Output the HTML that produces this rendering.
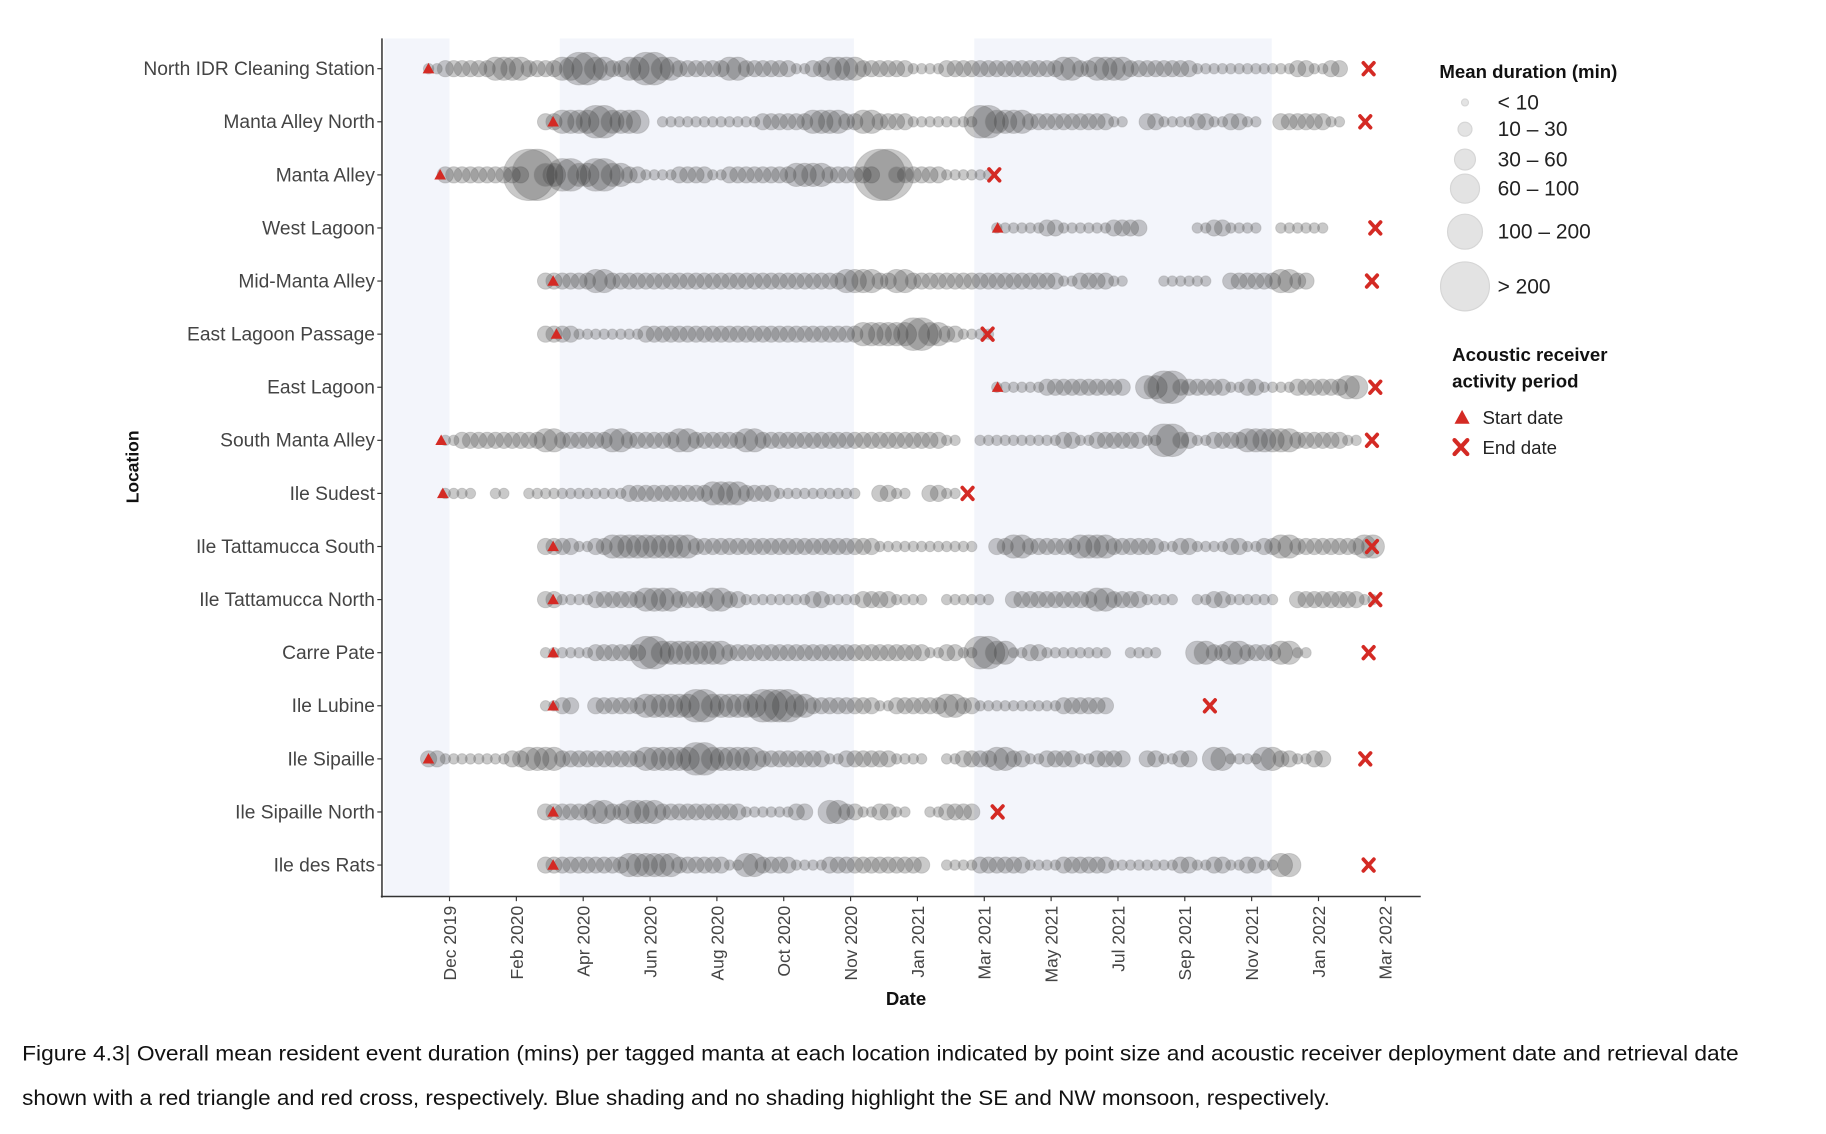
<!DOCTYPE html>
<html><head><meta charset="utf-8">
<style>
html,body{margin:0;padding:0;background:#fff;}
svg{display:block;}
text{font-family:"Liberation Sans",sans-serif;}
</style></head>
<body>
<svg id="chart" width="1826" height="1134" viewBox="0 0 1568 974" preserveAspectRatio="none" xmlns="http://www.w3.org/2000/svg">
<g id="bands"></g>
<g id="bubbles"></g>
<g id="markers"></g>
<g id="axes"></g>
<text x="0" y="0" transform="translate(119,401) rotate(-90)" text-anchor="middle" font-size="15" font-weight="bold" fill="#111">Location</text>
<text x="778" y="863" text-anchor="middle" font-size="16" font-weight="bold" fill="#111">Date</text>
<g>
<text x="1236" y="67" font-size="16" font-weight="bold" fill="#111">Mean duration (min)</text>
<g id="sizeLegend"></g>
</g>
<g>
<text x="1247" y="310" font-size="16" font-weight="bold" fill="#111">Acoustic receiver</text>
<text x="1247" y="333" font-size="16" font-weight="bold" fill="#111">activity period</text>
<polygon points="1249,364 1262,364 1255.5,352" fill="#d42a24"/>
<text x="1273" y="364" font-size="16" fill="#222">Start date</text>
<g stroke="#d42a24" stroke-width="3.6" stroke-linecap="round"><line x1="1249" y1="378" x2="1260" y2="390"/><line x1="1260" y1="378" x2="1249" y2="390"/></g>
<text x="1273" y="390" font-size="16" fill="#222">End date</text>
</g>
<text x="19" y="911" font-size="18" fill="#111" textLength="1474" lengthAdjust="spacingAndGlyphs">Figure 4.3| Overall mean resident event duration (mins) per tagged manta at each location indicated by point size and acoustic receiver deployment date and retrieval date</text>
<text x="19" y="949" font-size="18" fill="#111" textLength="1123" lengthAdjust="spacingAndGlyphs">shown with a red triangle and red cross, respectively. Blue shading and no shading highlight the SE and NW monsoon, respectively.</text>
</svg>
<script>
// ---- data ----
const locations = ["North IDR Cleaning Station","Manta Alley North","Manta Alley","West Lagoon","Mid-Manta Alley","East Lagoon Passage","East Lagoon","South Manta Alley","Ile Sudest","Ile Tattamucca South","Ile Tattamucca North","Carre Pate","Ile Lubine","Ile Sipaille","Ile Sipaille North","Ile des Rats"];
const tickLabels = ["Dec 2019","Feb 2020","Apr 2020","Jun 2020","Aug 2020","Oct 2020","Nov 2020","Jan 2021","Mar 2021","May 2021","Jul 2021","Sep 2021","Nov 2021","Jan 2022","Mar 2022"];
// start / end dates in months after Dec 2019
const startMonths = [-0.63,3.1,-0.28,16.4,3.1,3.2,16.4,-0.25,-0.2,3.1,3.1,3.1,3.1,-0.63,3.1,3.1];
const endMonths = [27.5,27.4,16.3,27.7,27.6,16.1,27.7,27.6,15.5,27.6,27.7,27.5,22.75,27.4,16.4,27.5];
// size class per half-month slot starting at month -1 ('.' = none, 0..5 = size class)
const sizeCodes = [
".1222332234323432223222123322211222222232332222111111212..",
"........233433.1111112223323221111433222221.2112121.2221.",
".3222225343432112212222332225222111",
"...................................111211122...1211.111.",
"........22232222222222222233232222222221221..111.22232",
"........221111222222222222233343211",
"...................................11122222.3422212112223",
".11222223222322232223222222222221.11111212221421223332221",
".111.1.11111122222332211111.21.21",
"........22123333322222222222111111.23222332221211212322223",
"........21122233223211112112211.111.2222232211.12111.22221.",
"........1112224333322222222222212143121111.11..3232231",
"........12.2223334333443222212223211111222",
".211112332222233343332222122211.12232122122.212.3113212",
"........2223233222221112.32121.122.",
"........22222333222132211222222.112221122211112121213"
];
const sizeClasses = ["< 10","10 – 30","30 – 60","60 – 100","100 – 200","> 200"];
const sizeRadius = [2.5,4.5,7,10,14,22];
// ---- scales ----
const x0 = 386, pxPerMonth = 28.7;
function xScale(m){ return x0 + m*pxPerMonth; }
const rowTop = 59, rowStep = 45.6;
function yScale(i){ return rowTop + i*rowStep; }
const NS = "http://www.w3.org/2000/svg";
function mk(tag, attrs, parent){ const e=document.createElementNS(NS,tag); for(const k in attrs) e.setAttribute(k,attrs[k]); parent.appendChild(e); return e; }

// bands
const bands = document.getElementById('bands');
const bandMonths = [[-2,0],[3.3,12.1],[15.7,24.6]];
bandMonths.forEach((b,i)=>{
  const r = mk('rect',{x:Math.max(330,xScale(b[0])),y:33,width:xScale(b[1])-Math.max(330,xScale(b[0])),height:737,fill:'#f3f5fb'},bands);
  
  
});

// bubbles
const bub = document.getElementById('bubbles');
sizeCodes.forEach((s,row)=>{
  const y = yScale(row);
  for(let i=0;i<s.length;i++){
    const c = s[i]; if(c==='.') continue;
    const m = -1 + 0.5*i;
    if(m < startMonths[row]-0.2 || m > endMonths[row]) continue;
    const r = sizeRadius[+c];
    [-3.6,3.6].forEach(dx=>{
      const e = mk('circle',{cx:xScale(m)+dx,cy:y,r:r,fill:'rgba(45,45,45,0.26)',stroke:'rgba(140,140,140,0.35)','stroke-width':0.8},bub);
      
      
    });
  }
});

// markers
const mkG = document.getElementById('markers');
locations.forEach((loc,i)=>{
  const y = yScale(i);
  const sx = xScale(startMonths[i]);
  const t = mk('polygon',{points:`${sx-5},${y+4} ${sx+5},${y+4} ${sx},${y-5}`,fill:'#d42a24'},mkG);
  
  
  const ex = xScale(endMonths[i]);
  const g = mk('g',{stroke:'#d42a24','stroke-width':3.2,'stroke-linecap':'round'},mkG);
  
  
  mk('line',{x1:ex-4.5,y1:y-5,x2:ex+4.5,y2:y+5},g);
  mk('line',{x1:ex+4.5,y1:y-5,x2:ex-4.5,y2:y+5},g);
});

// axes
const ax = document.getElementById('axes');
let l = mk('line',{x1:328,y1:33,x2:328,y2:771,stroke:'#333','stroke-width':1.3},ax);
 
l = mk('line',{x1:327,y1:770,x2:1220,y2:770,stroke:'#333','stroke-width':1.3},ax);
 
locations.forEach((loc,i)=>{
  const y = yScale(i);
  mk('line',{x1:324,y1:y,x2:328,y2:y,stroke:'#333','stroke-width':1},ax);
  const t = mk('text',{x:322,y:y+5.5,'text-anchor':'end','font-size':16.5,fill:'#444'},ax);
  t.textContent = loc;
  
  
});
const tickStep = 57.4;
tickLabels.forEach((lab,i)=>{
  const x = 386 + i*tickStep;
  mk('line',{x1:x,y1:770,x2:x,y2:774,stroke:'#333','stroke-width':1},ax);
  const t = mk('text',{x:0,y:0,transform:`translate(${x+5.5},778) rotate(-90)`,'text-anchor':'end','font-size':15,fill:'#444'},ax);
  t.textContent = lab;
  
  
});

// size legend
const sl = document.getElementById('sizeLegend');
const legY = [88,111,137,162,199,246];
sizeClasses.forEach((lab,i)=>{
  const c = mk('circle',{cx:1258,cy:legY[i],r:[3,6,9,12.5,15,21][i],fill:'#e3e3e3',stroke:'#d6d6d6'},sl);
  
  
  const t = mk('text',{x:1286,y:legY[i]+6,'font-size':18,fill:'#222'},sl);
  t.textContent = lab;
  
  
});
</script>
</body></html>
